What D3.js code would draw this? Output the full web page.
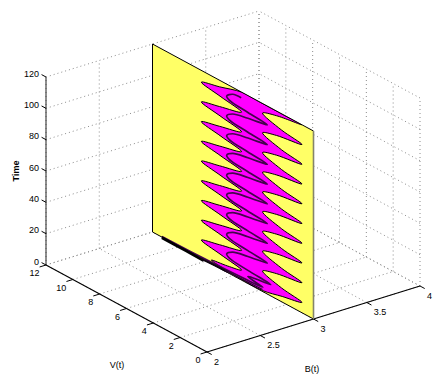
<!DOCTYPE html>
<html>
<head>
<meta charset="utf-8">
<script src="https://cdn.jsdelivr.net/npm/d3@7/dist/d3.min.js"></script>
<style>
html,body{margin:0;padding:0;background:#fff;}
svg{display:block;}
text{font-family:"Liberation Sans",Arial,sans-serif;font-size:9px;fill:#000;}
</style>
</head>
<body>
<svg id="chart" width="440" height="378"></svg>
<script>
const bTicks = [2, 2.5, 3, 3.5, 4];
const vTicks = [0, 2, 4, 6, 8, 10, 12];
const tTicks = [0, 20, 40, 60, 80, 100, 120];
const planeB = 3;

// Filled region outline (V, Time), clockwise from the top left notch
const outerV = [5.36, 4.2, 2.0, 0.86,
  2.76,3.8,2.39,0.86, 2.76,3.8,2.39,0.86, 2.76,3.8,2.39,0.86, 2.76,3.8,2.39,0.86, 2.76,3.8,2.39,0.86,
  2.76,3.8,2.39,0.86, 2.76,3.8,2.39,0.86, 2.76,3.8,2.39,0.86, 2.76,3.8,2.39,0.86,
  2.33, 3.79, 5.5, 7.61, 6.4,
  5.36,6.9,8.36,7.0, 5.36,6.9,8.36,7.0, 5.36,6.9,8.36,7.0, 5.36,6.9,8.36,7.0, 5.36,6.9,8.36,7.0,
  5.36,6.9,8.36,7.0, 5.36,6.9,8.36,7.0, 5.36,6.9,8.36,7.0, 5.36,6.9,8.36,7.0];
const outerT = [120, 120, 120, 120,
  117,113.9,109.6,107.4, 104.4,101.3,97,94.8, 91.8,88.7,84.4,82.2, 79.2,76.1,71.8,69.6, 66.6,63.5,59.2,57,
  54,50.9,46.6,44.4, 41.4,38.3,34,31.8, 28.8,25.7,21.4,19.2, 16.2,13.1,8.8,6.6,
  3.6, 0.6, 0.5, 2.4, 4.2,
  6.4,9.1,11.7,15, 19,21.7,24.3,27.6, 31.6,34.3,36.9,40.2, 44.2,46.9,49.5,52.8, 56.8,59.5,62.1,65.4,
  69.4,72.1,74.7,78, 82,84.7,87.3,90.6, 94.6,97.3,99.9,103.2, 107.2,109.9,112.5,115.8];

// Inner trajectory (V, Time)
const innerV = [5.39,6.02,6.47,6.26,4.89,
  3.44,4.89,6.02,6.47,6.26,4.89, 3.44,4.89,6.02,6.47,6.26,4.89, 3.44,4.89,6.02,6.47,6.26,4.89,
  3.44,4.89,6.02,6.47,6.26,4.89, 3.44,4.89,6.02,6.47,6.26,4.89, 3.44,4.89,6.02,6.47,6.26,4.89,
  3.44,4.89,6.02,6.47,6.26,4.89, 3.44,4.89,6.02,6.47,6.26,4.89,
  3.19,4.64,4.9,3.77,5.2,7.6,11.3];
const innerT = [116.3,115.6,112.4,110.6,109.2,
  108,105.5,103,99.8,98,96.6, 95.4,92.9,90.4,87.2,85.4,84, 82.8,80.3,77.8,74.6,72.8,71.4,
  70.2,67.7,65.2,62,60.2,58.8, 57.6,55.1,52.6,49.4,47.6,46.2, 45,42.5,40,36.8,35,33.6,
  32.4,29.9,27.4,24.2,22.4,21, 19.8,17.3,14.8,11.6,9.8,8.4,
  7.2,5.2,4.4,2.8,1.9,1.0,0.3];

// Dense early transient along the bottom of the plane
const bandV = [11.3, 9.5, 8.2];
const bandT = [0.2, 0.1, 0];
const midV = [8.4, 7.4, 6.4];
const midT = [-0.3, 0.2, 0.5];
const tailV = [6.6, 5.4, 3.8];
const tailT = [0.5, 0.8, 1.2];

const xB = d3.scaleLinear().domain([2, 4]).range([0, 213]);
const yB = d3.scaleLinear().domain([2, 4]).range([0, -66]);
const xV = d3.scaleLinear().domain([0, 12]).range([207, 46]);
const yV = d3.scaleLinear().domain([0, 12]).range([352, 265]);
const yT = d3.scaleLinear().domain([0, 120]).range([0, -188]);
const px = (b, v, t) => [xB(b) + xV(v), yB(b) + yV(v) + yT(t)];

const svg = d3.select("#chart");
const bMin = d3.min(bTicks), bMax = d3.max(bTicks);
const vMin = d3.min(vTicks), vMax = d3.max(vTicks);
const tMin = d3.min(tTicks), tMax = d3.max(tTicks);

// Grid
const segs = [];
vTicks.forEach(v => {
  segs.push([px(bMin, v, tMin), px(bMax, v, tMin)]);
  segs.push([px(bMax, v, tMin), px(bMax, v, tMax)]);
});
bTicks.forEach(b => {
  segs.push([px(b, vMin, tMin), px(b, vMax, tMin)]);
  segs.push([px(b, vMax, tMin), px(b, vMax, tMax)]);
});
tTicks.forEach(t => {
  segs.push([px(bMin, vMax, t), px(bMax, vMax, t)]);
  segs.push([px(bMax, vMin, t), px(bMax, vMax, t)]);
});
svg.append("g").selectAll("line").data(segs).join("line")
  .attr("x1", d => d[0][0]).attr("y1", d => d[0][1])
  .attr("x2", d => d[1][0]).attr("y2", d => d[1][1])
  .attr("stroke", "#8c8c8c").attr("stroke-width", 1).attr("stroke-dasharray", "1 3");

// Axes lines
const axisLines = [
  {a: px(bMin, vMax, tMin), b: px(bMin, vMin, tMin), c: "#000", w: 1.1},
  {a: px(bMin, vMin, tMin), b: px(bMax, vMin, tMin), c: "#000", w: 1.1},
  {a: px(bMin, vMax, tMin), b: px(bMin, vMax, tMax), c: "#333", w: 1.1}
];
svg.append("g").selectAll("line").data(axisLines).join("line")
  .attr("x1", d => d.a[0]).attr("y1", d => d.a[1])
  .attr("x2", d => d.b[0]).attr("y2", d => d.b[1])
  .attr("stroke", d => d.c).attr("stroke-width", d => d.w);

// Ticks
const ticks = [
  ...vTicks.map(v => [px(bMin, v, tMin), px(bMin - 0.06, v, tMin)]),
  ...bTicks.map(b => [px(b, vMin, tMin), px(b, vMin - 0.35, tMin)]),
  ...tTicks.map(t => [px(bMin, vMax, t), px(bMin, vMax + 0.33, t)])
];
svg.append("g").selectAll("line").data(ticks).join("line")
  .attr("x1", d => d[0][0]).attr("y1", d => d[0][1])
  .attr("x2", d => d[1][0]).attr("y2", d => d[1][1])
  .attr("stroke", "#000").attr("stroke-width", 1);

// Yellow plane
const plane = [[vMax, tMin], [vMax, tMax], [vMin, tMax], [vMin, tMin]].map(d => px(planeB, d[0], d[1]));
const planePoints = plane.map(p => p.join(",")).join(" ");
svg.append("polygon").attr("points", planePoints).attr("fill", "#ffff66");
svg.append("clipPath").attr("id", "planeClip").append("polygon").attr("points", planePoints);

// Magenta region
const proj = d => px(planeB, d[0], d[1]);
const closed = d3.line().curve(d3.curveCatmullRomClosed.alpha(0.5));
const open = d3.line().curve(d3.curveCatmullRom.alpha(0.5));
const outerPts = d3.zip(outerV, outerT).map(proj);
svg.append("path").attr("d", closed(outerPts)).attr("clip-path", "url(#planeClip)")
  .attr("fill", "#ff00ff").attr("stroke", "#000").attr("stroke-width", 1).attr("stroke-linejoin", "round");

// Inner trajectory
const innerPts = d3.zip(innerV, innerT).map(proj);
svg.append("path").attr("d", open(innerPts))
  .attr("fill", "none").attr("stroke", "#43054c").attr("stroke-width", 1.7);

// Plane outline
svg.append("polygon").attr("points", planePoints)
  .attr("fill", "none").attr("stroke", "#000").attr("stroke-width", 1).attr("stroke-linejoin", "round");
svg.append("line")
  .attr("x1", plane[2][0]).attr("y1", plane[2][1]).attr("x2", plane[3][0]).attr("y2", plane[3][1])
  .attr("stroke", "#85856a").attr("stroke-width", 1.6);

// Dense band, thinning as it runs towards the low V end
svg.append("path").attr("d", open(d3.zip(bandV, bandT).map(proj)))
  .attr("fill", "none").attr("stroke", "#000").attr("stroke-width", 2.6)
  .attr("transform", "translate(0,1)");
svg.append("path").attr("d", open(d3.zip(midV, midT).map(proj)))
  .attr("fill", "none").attr("stroke", "#0d0210").attr("stroke-width", 2);
svg.append("path").attr("d", open(d3.zip(tailV, tailT).map(proj)))
  .attr("fill", "none").attr("stroke", "#2a0530").attr("stroke-width", 1.2);

// Tick labels
const labels = [
  ...tTicks.map(t => { const p = px(bMin, vMax, t); return {x: p[0] - 7, y: p[1] - 3.5, s: String(t), a: "end"}; }),
  ...vTicks.map(v => { const p = px(bMin, v, tMin); return {x: p[0] - 6.5, y: p[1] + 8, s: String(v), a: "end"}; }),
  ...bTicks.map(b => { const p = px(b, vMin, tMin); return {x: p[0] + 7, y: p[1] + 9.5, s: String(b), a: "start"}; })
];
svg.append("g").selectAll("text").data(labels).join("text")
  .attr("x", d => d.x).attr("y", d => d.y).attr("dy", "0.35em")
  .attr("text-anchor", d => d.a).text(d => d.s);

// Axis titles
svg.append("text").attr("x", 117).attr("y", 365).attr("dy", "0.35em").attr("text-anchor", "middle").text("V(t)");
svg.append("text").attr("x", 312).attr("y", 369).attr("dy", "0.35em").attr("text-anchor", "middle").text("B(t)");
svg.append("text").attr("transform", "translate(16,171) rotate(-90)").attr("dy", "0.35em")
  .attr("text-anchor", "middle").attr("font-weight", "bold").text("Time");
</script>
</body>
</html>
